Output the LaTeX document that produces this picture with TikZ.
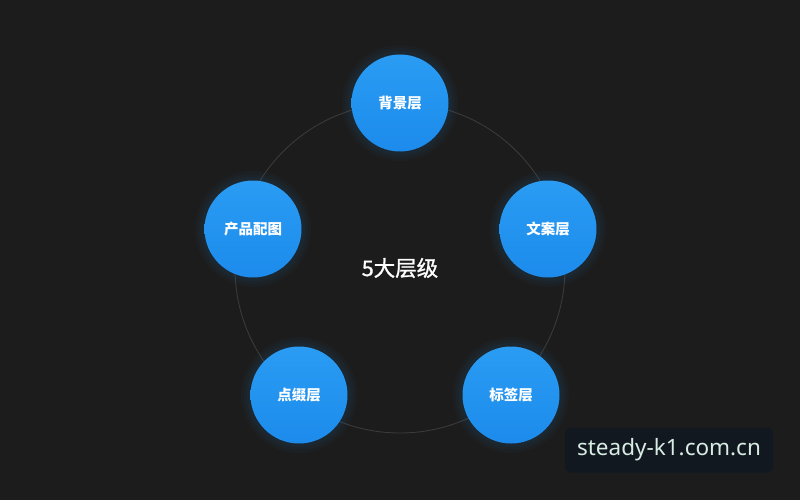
\documentclass[tikz,border=0pt]{standalone}
\usepackage{fontspec}
\setmainfont{Noto Sans}
\newfontfamily\cjk{Noto Sans CJK SC}
\newfontfamily\cjkm[FakeBold=1.2]{Noto Sans CJK SC}
\usetikzlibrary{shadings}
\definecolor{bg}{HTML}{1C1C1C}
\definecolor{ring}{HTML}{3A3A3A}
\definecolor{btop}{HTML}{2A9CF3}
\definecolor{bbot}{HTML}{1C8BEC}
\definecolor{wmbox}{HTML}{111820}
\definecolor{wmtext}{HTML}{D8ECE4}
\tikzset{
  layer/.style={circle, minimum size=97pt, inner sep=0pt, top color=btop, bottom color=bbot,
     text=white, font=\cjk\bfseries\fontsize{14.5pt}{16pt}\selectfont},
}
\begin{document}
\begin{tikzpicture}[x=1pt,y=-1pt]
\useasboundingbox (0,0) rectangle (800,500);
\fill[bg] (0,0) rectangle (800,500);
\coordinate (c) at (400,268);
\draw[ring, line width=0.9pt] (c) circle (165);
\foreach \p in {(400,103),(548,229),(511,395),(299,395),(253,229)}{
  \foreach \r in {52,55,58}{ \fill[btop, opacity=0.035] \p circle (\r); }
}
\node[layer] (bg1) at (400,103) {背景层};
\node[layer] (wa) at (548,229) {文案层};
\node[layer] (bq) at (511,395) {标签层};
\node[layer] (dz) at (299,395) {点缀层};
\node[layer] (cp) at (253,229) {产品配图};
\node[text=white, font=\cjkm\fontsize{21.5pt}{24pt}\selectfont] (title) at (400,268) {5大层级};
\node[fill=wmbox, rounded corners=6pt, minimum width=208pt, minimum height=45pt, inner sep=0pt,
  text=wmtext, font=\fontsize{22.5pt}{26pt}\selectfont] (wm) at (669,450) {steady-k1.com.cn};
\end{tikzpicture}
\end{document}
